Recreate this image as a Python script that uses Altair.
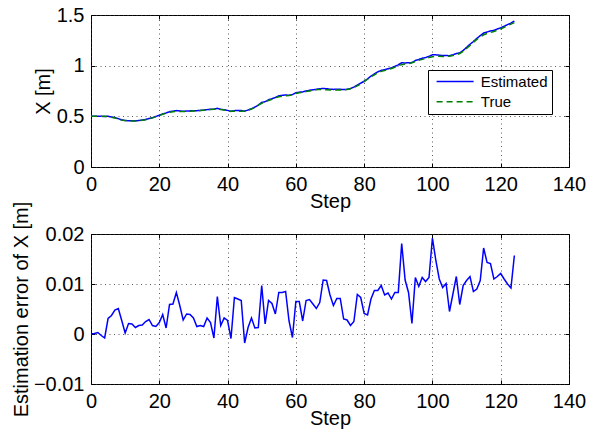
import altair as alt
import pandas as pd

FONT = "Liberation Sans"

steps = list(range(125))

x_true = [
    0.500, 0.500, 0.500, 0.500, 0.500, 0.497, 0.490, 0.483, 0.472, 0.463,
    0.458, 0.455, 0.454, 0.454, 0.457, 0.462, 0.467, 0.475, 0.485, 0.497,
    0.508, 0.520, 0.532, 0.540, 0.545, 0.548, 0.548, 0.547, 0.548, 0.550,
    0.552, 0.554, 0.557, 0.560, 0.563, 0.567, 0.570, 0.572, 0.568, 0.562,
    0.556, 0.550, 0.549, 0.550, 0.551, 0.553, 0.561, 0.572, 0.590, 0.610,
    0.628, 0.643, 0.657, 0.668, 0.682, 0.694, 0.699, 0.702, 0.705, 0.715,
    0.726, 0.732, 0.738, 0.744, 0.750, 0.756, 0.762, 0.766, 0.764, 0.762,
    0.760, 0.760, 0.760, 0.760, 0.761, 0.764, 0.773, 0.786, 0.800, 0.820,
    0.842, 0.866, 0.890, 0.910, 0.930, 0.944, 0.952, 0.962, 0.972, 0.985,
    1.000, 1.010, 1.016, 1.021, 1.028, 1.040, 1.052, 1.062, 1.070, 1.080,
    1.088, 1.092, 1.092, 1.091, 1.091, 1.093, 1.100, 1.108, 1.120, 1.140,
    1.170, 1.200, 1.230, 1.260, 1.285, 1.305, 1.318, 1.328, 1.338, 1.350,
    1.362, 1.378, 1.395, 1.410, 1.425,
]

x_error = [
    0.0000, 0.0001, 0.0003, -0.0003, -0.0008, 0.0031, 0.0037, 0.0048, 0.0051, 0.0027,
    0.0002, 0.0021, 0.0020, 0.0013, 0.0017, 0.0018, 0.0025, 0.0029, 0.0017, 0.0015,
    0.0023, 0.0039, 0.0012, 0.0059, 0.0060, 0.0083, 0.0057, 0.0028, 0.0040, 0.0039,
    0.0032, 0.0015, 0.0017, 0.0015, 0.0032, 0.0023, -0.0008, 0.0075, 0.0017, 0.0032,
    0.0027, -0.0009, 0.0073, 0.0070, 0.0067, -0.0018, 0.0013, 0.0032, 0.0012, 0.0013,
    0.0097, 0.0020, 0.0067, 0.0061, 0.0040, 0.0083, 0.0083, 0.0085, 0.0026, -0.0007,
    0.0065, 0.0065, 0.0026, 0.0067, 0.0069, 0.0060, 0.0051, 0.0063, 0.0108, 0.0107,
    0.0078, 0.0057, 0.0071, 0.0071, 0.0030, 0.0028, 0.0017, 0.0025, 0.0079, 0.0073,
    0.0041, 0.0038, 0.0070, 0.0087, 0.0087, 0.0097, 0.0078, 0.0082, 0.0070, 0.0083,
    0.0083, 0.0181, 0.0108, 0.0083, 0.0021, 0.0113, 0.0095, 0.0113, 0.0105, 0.0113,
    0.0192, 0.0147, 0.0110, 0.0093, 0.0101, 0.0045, 0.0080, 0.0115, 0.0059, 0.0097,
    0.0107, 0.0115, 0.0085, 0.0090, 0.0107, 0.0172, 0.0143, 0.0141, 0.0110, 0.0115,
    0.0121, 0.0110, 0.0100, 0.0092, 0.0157,
]

x_ticks = [0, 20, 40, 60, 80, 100, 120, 140]
top_ticks = [0, 0.5, 1, 1.5]
err_ticks = [-0.01, 0, 0.01, 0.02]
series_names = ["Estimated", "True"]
series_colors = ["#0000ff", "#008000"]
series_dashes = [[1, 0], [6, 4]]

# estimated = true + estimation error
x_est = [t + e for t, e in zip(x_true, x_error)]

df_top = pd.DataFrame({
    "step": steps * 2,
    "value": x_est + x_true,
    "series": ["Estimated"] * len(steps) + ["True"] * len(steps),
})
df_err = pd.DataFrame({"step": steps, "err": x_error})

TICK = 4
W = 478
FS = 20

xscale = alt.Scale(domain=[0, 140], nice=False, zero=False)


def main_x():
    return alt.Axis(orient="bottom", values=x_ticks, format="d", offset=-TICK,
                    tickSize=TICK, domain=False, grid=True, labelPadding=7.5,
                    labelFlush=False, labelOverlap=False, title="Step",
                    titleBaseline="alphabetic", titleY=44.5)


def side_x():
    return alt.Axis(orient="top", values=x_ticks, offset=-TICK, tickSize=TICK,
                    domain=False, grid=False, labels=False, title=None)


def side_y(vals):
    return alt.Axis(orient="right", values=vals, offset=-TICK, tickSize=TICK,
                    domain=False, grid=False, labels=False, title=None)


legend = alt.Legend(
    orient="none", legendX=337, legendY=55, title=None,
    symbolType="stroke", symbolSize=1369, symbolStrokeWidth=1.5,
    clipHeight=15, symbolOffset=3.6, labelOffset=6.2, labelAlign="left",
    labelFontSize=15, labelFont=FONT, labelColor="black",
    padding=4, rowPadding=4.3, fillColor="white", strokeColor="black",
    cornerRadius=0,
)

top_y_scale = alt.Scale(domain=[0, 1.5], nice=False, zero=False)

top_lines = alt.Chart(df_top).mark_line(strokeWidth=1.5).encode(
    x=alt.X("step:Q", scale=xscale, axis=main_x()),
    y=alt.Y("value:Q", scale=top_y_scale,
            axis=alt.Axis(orient="left", values=top_ticks, format=".1~f",
                          offset=-TICK, tickSize=TICK, domain=False, grid=True,
                          labelPadding=7, labelFlush=False, labelOverlap=False,
                          title="X [m]", titleX=-52, titleBaseline="middle")),
    color=alt.Color("series:N", scale=alt.Scale(domain=series_names, range=series_colors),
                    legend=legend),
    strokeDash=alt.StrokeDash("series:N", scale=alt.Scale(domain=series_names, range=series_dashes),
                              legend=legend),
)

top_side = alt.Chart(df_top).mark_line(strokeOpacity=0).encode(
    x=alt.X("step:Q", scale=xscale, axis=side_x()),
    y=alt.Y("value:Q", scale=top_y_scale, axis=side_y(top_ticks)),
)

top = alt.layer(top_lines, top_side).resolve_axis(
    x="independent", y="independent"
).properties(width=W, height=152)

err_y_scale = alt.Scale(domain=[-0.01, 0.02], nice=False, zero=False)

err_line = alt.Chart(df_err).mark_line(strokeWidth=1.5, color="#0000ff").encode(
    x=alt.X("step:Q", scale=xscale, axis=main_x()),
    y=alt.Y("err:Q", scale=err_y_scale,
            axis=alt.Axis(orient="left", values=err_ticks, format=".2~f",
                          offset=-TICK, tickSize=TICK, domain=False, grid=True,
                          labelPadding=7, labelFlush=False, labelOverlap=False,
                          title="Estimation error of X [m]", titleX=-74,
                          titleBaseline="middle")),
)

err_side = alt.Chart(df_err).mark_line(strokeOpacity=0).encode(
    x=alt.X("step:Q", scale=xscale, axis=side_x()),
    y=alt.Y("err:Q", scale=err_y_scale, axis=side_y(err_ticks)),
)

bottom = alt.layer(err_line, err_side).resolve_axis(
    x="independent", y="independent"
).properties(width=W, height=150)

chart = alt.vconcat(top, bottom, spacing=67, bounds="flush").properties(
    padding={"left": 10, "top": 4, "right": 2, "bottom": 0},
    background="white",
).configure(font=FONT).configure_axis(
    labelFont=FONT, labelFontSize=FS, labelColor="black",
    titleFont=FONT, titleFontSize=FS, titleFontWeight="normal", titleColor="black",
    tickColor="black", tickWidth=1,
    gridColor="#333333", gridDash=[1, 3.5], gridWidth=1, gridOpacity=0.8,
).configure_view(stroke="black", strokeWidth=1)

chart.save("out.html", embed_options={"renderer": "svg", "actions": False})
